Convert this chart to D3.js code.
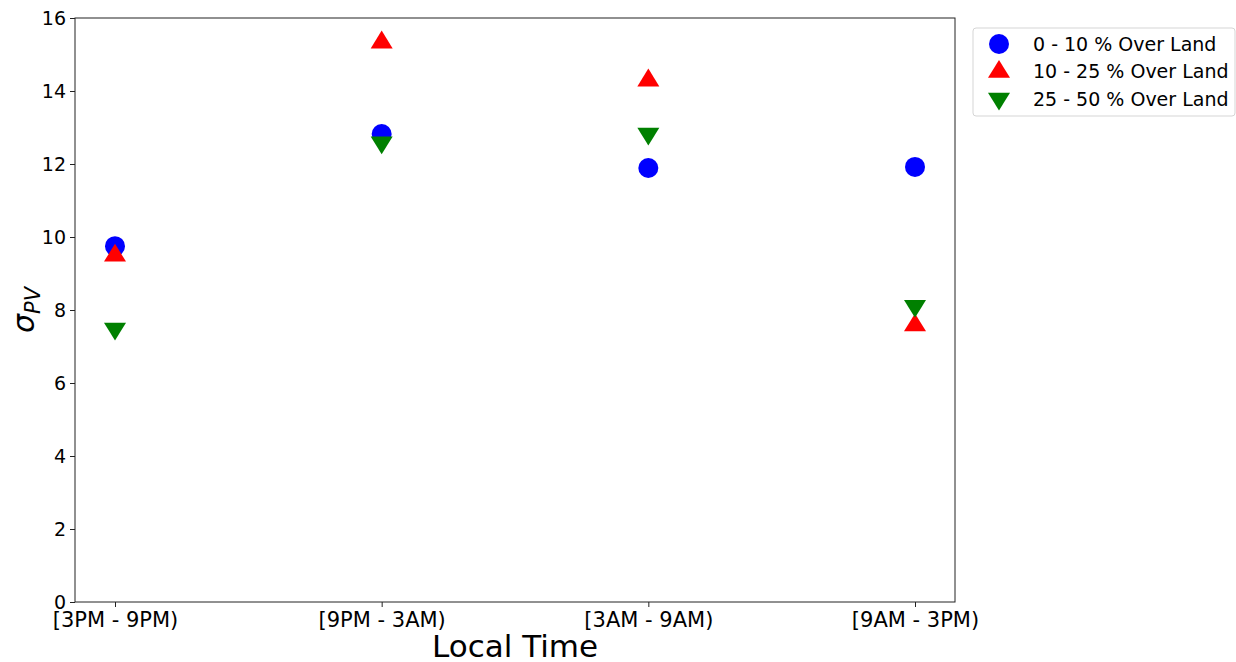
<!DOCTYPE html>
<html lang="en">
<head>
  <meta charset="UTF-8">
  <title>sigma PV by local time</title>
  <script src="https://d3js.org/d3.v7.min.js"></script>
  <style>
    body { margin: 0; background: #fff; font-family: "DejaVu Sans", sans-serif; }
    .tick text { font-family: "DejaVu Sans", sans-serif; fill: #000; }
    .axis path, .axis line { stroke: #222; }
  </style>
</head>
<body>
  <svg id="chart" width="1236" height="662"></svg>
  <script>
    const categories = ["[3PM - 9PM)", "[9PM - 3AM)", "[3AM - 9AM)", "[9AM - 3PM)"];
    const land0to10 = [9.75, 12.82, 11.89, 11.92];
    const land10to25 = [9.5, 15.34, 14.3, 7.59];
    const land25to50 = [7.48, 12.58, 12.82, 8.1];
    const yTicks = [0, 2, 4, 6, 8, 10, 12, 14, 16];

    const series = [
      { name: "0 - 10 % Over Land", values: land0to10, color: "#0000ff", shape: "circle" },
      { name: "10 - 25 % Over Land", values: land10to25, color: "#ff0000", shape: "up" },
      { name: "25 - 50 % Over Land", values: land25to50, color: "#008000", shape: "down" }
    ];

    const svg = d3.select("#chart");
    const margin = { top: 18, left: 75, right: 955, bottom: 602 };

    const x = d3.scaleLinear().domain([-0.15, categories.length - 1 + 0.15]).range([margin.left, margin.right]);
    const y = d3.scaleLinear().domain([0, 16]).range([margin.bottom, margin.top]);

    // marker paths, roughly matplotlib s=200
    function markerPath(shape) {
      if (shape === "circle") return d3.symbol(d3.symbolCircle, Math.PI * 10 * 10)();
      const h = 11.5, w = 11;
      if (shape === "up") return `M0,${-h}L${w},${h * 0.55}L${-w},${h * 0.55}Z`;
      return `M0,${h}L${w},${-h * 0.55}L${-w},${-h * 0.55}Z`;
    }

    // axes
    svg.append("g")
      .attr("class", "axis")
      .attr("transform", `translate(0,${margin.bottom})`)
      .call(d3.axisBottom(x).tickValues(d3.range(categories.length)).tickFormat(i => categories[i]).tickSize(5).tickPadding(3))
      .call(g => g.select(".domain").remove())
      .selectAll("text").attr("font-size", 21).attr("dy", "0.8em");

    svg.append("g")
      .attr("class", "axis")
      .attr("transform", `translate(${margin.left},0)`)
      .call(d3.axisLeft(y).tickValues(yTicks).tickSize(5).tickPadding(4))
      .call(g => g.select(".domain").remove())
      .selectAll("text").attr("font-size", 19);

    svg.append("rect")
      .attr("x", margin.left).attr("y", margin.top)
      .attr("width", margin.right - margin.left).attr("height", margin.bottom - margin.top)
      .attr("fill", "none").attr("stroke", "#222").attr("stroke-width", 1);

    // points
    series.forEach(s => {
      svg.append("g").selectAll("path")
        .data(s.values)
        .join("path")
        .attr("d", markerPath(s.shape))
        .attr("transform", (d, i) => `translate(${x(i)},${y(d)})`)
        .attr("fill", s.color);
    });

    // axis titles
    svg.append("text")
      .attr("x", (margin.left + margin.right) / 2).attr("y", 657)
      .attr("text-anchor", "middle").attr("font-size", 31)
      .text("Local Time");

    const yl = svg.append("text")
      .attr("transform", `translate(34,${(margin.top + margin.bottom) / 2}) rotate(-90)`)
      .attr("text-anchor", "middle").attr("font-size", 30);
    yl.append("tspan").attr("font-style", "italic").text("σ");
    yl.append("tspan").attr("font-size", 21).attr("font-style", "italic").attr("dy", 6).text("PV");

    // legend
    const lg = svg.append("g").attr("transform", "translate(973,28)");
    lg.append("rect").attr("width", 262).attr("height", 88).attr("rx", 3)
      .attr("fill", "#fff").attr("stroke", "#d5d5d5");
    series.forEach((s, i) => {
      const row = lg.append("g").attr("transform", `translate(26,${16 + i * 27.5})`);
      row.append("path").attr("d", markerPath(s.shape)).attr("fill", s.color);
      row.append("text").attr("x", 34).attr("dy", "0.35em").attr("font-size", 19).text(s.name);
    });
  </script>
</body>
</html>
